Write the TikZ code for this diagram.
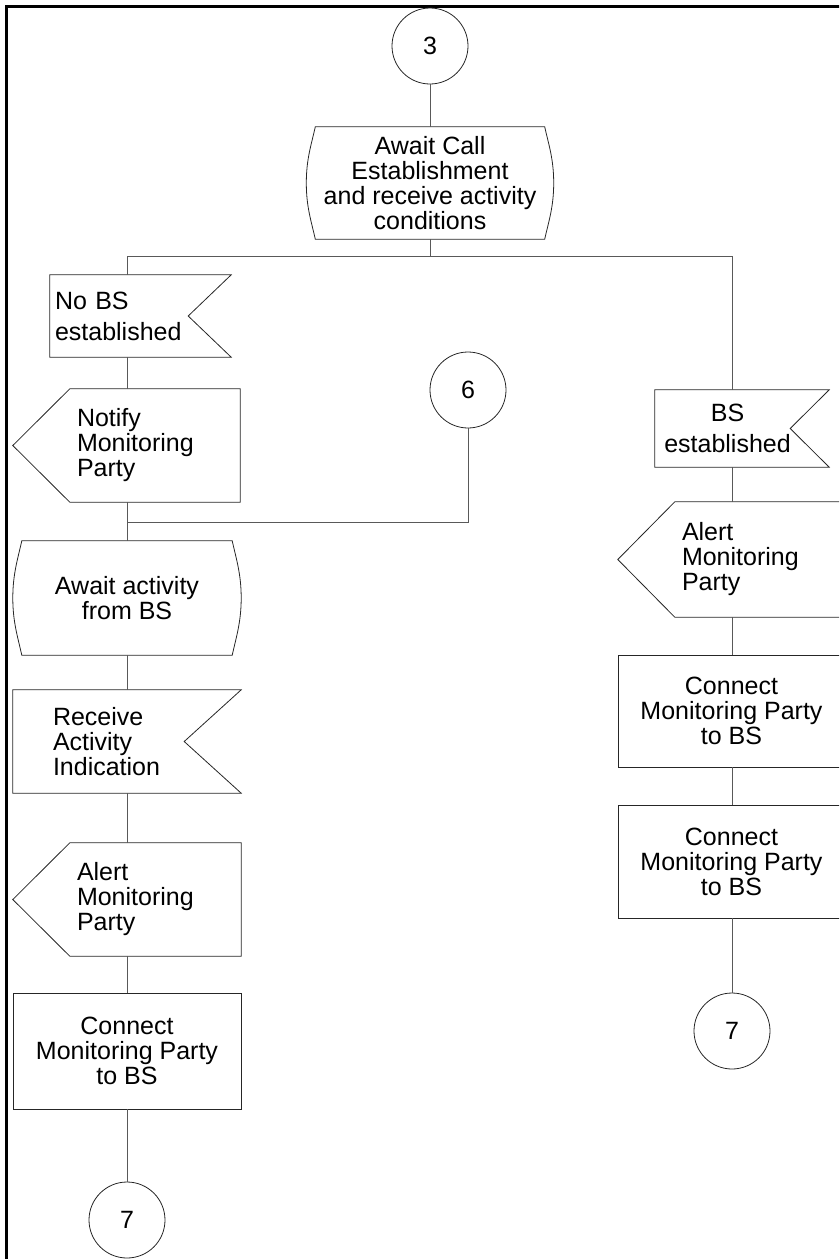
\documentclass[tikz,border=0pt]{standalone}
\usepackage{fontspec}
\setmainfont{Liberation Sans}
\usetikzlibrary{calc}

\begin{document}
\begin{tikzpicture}[x=1pt,y=-1pt]

%
% Styles
%
\tikzstyle{box} = [rectangle,inner sep=0pt,font=\fontsize{25}{25}\selectfont,align=center]
\tikzstyle{conn} = [circle,draw=black!85,line width=0.8pt,inner sep=0pt,minimum size=76pt,font=\fontsize{25}{25}\selectfont]
\tikzstyle{outline} = [draw=black!85,line width=0.8pt]
\tikzstyle{flow} = [draw=black!65,line width=1pt]

\useasboundingbox (0,0) rectangle (839,1259);
\clip (0,0) rectangle (839,1259);

% frame
\draw[line width=3pt] (6,1262) -- (6,6) -- (842,6);

% top
\node[conn] (c3) at (430,46) {3};
\node[box,minimum width=247pt,minimum height=112pt] (await) at (430,183) {Await Call\\Establishment\\and receive activity\\conditions};
\draw[outline] ($(await.north west)+(9,0)$) -- ($(await.north east)+(-9,0)$)
  .. controls ($(await.north east)+(-5,18)$) and ($(await.east)+(0,-24)$) .. (await.east)
  .. controls ($(await.east)+(0,24)$) and ($(await.south east)+(-5,-18)$) .. ($(await.south east)+(-9,0)$)
  -- ($(await.south west)+(9,0)$)
  .. controls ($(await.south west)+(5,-18)$) and ($(await.west)+(0,24)$) .. (await.west)
  .. controls ($(await.west)+(0,-24)$) and ($(await.north west)+(5,18)$) .. cycle;

\coordinate (split) at (430,256);
\coordinate (lcol) at (127,256);
\coordinate (rcol) at (732,256);

% left branch
\node[box,minimum width=181pt,minimum height=82pt,text width=171pt,align=left,font=\fontsize{25}{31}\selectfont] (nobs) at (140.5,316) {No BS\\established};
\draw[outline] (nobs.north west) -- (nobs.north east) -- ($(nobs.east)+(-43,0)$) -- (nobs.south east) -- (nobs.south west) -- cycle;

\node[box,minimum width=170pt,minimum height=113pt,text width=156pt,align=left] (notify) at (155,445.5) {Notify\\Monitoring\\Party};
\draw[outline] (notify.north west) -- (notify.north east) -- (notify.south east) -- (notify.south west) -- ($(notify.west)+(-57,0)$) -- cycle;

\node[conn] (c6) at (468,390) {6};
\coordinate (join) at (468,522);

\node[box,minimum width=228pt,minimum height=114pt] (waitbs) at (127,598) {Await activity\\from BS};
\draw[outline] ($(waitbs.north west)+(9,0)$) -- ($(waitbs.north east)+(-9,0)$)
  .. controls ($(waitbs.north east)+(-5,18)$) and ($(waitbs.east)+(0,-24)$) .. (waitbs.east)
  .. controls ($(waitbs.east)+(0,24)$) and ($(waitbs.south east)+(-5,-18)$) .. ($(waitbs.south east)+(-9,0)$)
  -- ($(waitbs.south west)+(9,0)$)
  .. controls ($(waitbs.south west)+(5,-18)$) and ($(waitbs.west)+(0,24)$) .. (waitbs.west)
  .. controls ($(waitbs.west)+(0,-24)$) and ($(waitbs.north west)+(5,18)$) .. cycle;

\node[box,minimum width=228pt,minimum height=103pt,text width=148pt,align=left] (recv) at (127,741.5) {Receive\\Activity\\Indication};
\draw[outline] (recv.north west) -- (recv.north east) -- ($(recv.east)+(-57,0)$) -- (recv.south east) -- (recv.south west) -- cycle;

\node[box,minimum width=171pt,minimum height=113pt,text width=157pt,align=left] (alertl) at (155.5,899.5) {Alert\\Monitoring\\Party};
\draw[outline] (alertl.north west) -- (alertl.north east) -- (alertl.south east) -- (alertl.south west) -- ($(alertl.west)+(-57,0)$) -- cycle;

\node[box,outline,minimum width=228pt,minimum height=116pt] (connl) at (127,1051) {Connect\\Monitoring Party\\to BS};
\node[conn] (c7l) at (127,1220) {7};

% right branch
\node[box,minimum width=145pt,minimum height=77pt,font=\fontsize{25}{31}\selectfont] (bsest) at (727.5,428.5) {BS\\established};
\draw[outline] (bsest.north west) -- ($(bsest.north east)+(29,0)$) -- ($(bsest.east)+(-10,0)$) -- ($(bsest.south east)+(29,0)$) -- (bsest.south west) -- cycle;

\node[box,minimum width=180pt,minimum height=115pt,text width=166pt,align=left] (alertr) at (765,559.5) {Alert\\Monitoring\\Party};
\draw[outline] (alertr.north west) -- (alertr.north east) -- (alertr.south east) -- (alertr.south west) -- ($(alertr.west)+(-57,0)$) -- cycle;

\node[box,outline,minimum width=227pt,minimum height=112pt] (connr1) at (731.5,711) {Connect\\Monitoring Party\\to BS};
\node[box,outline,minimum width=227pt,minimum height=113pt] (connr2) at (731.5,861.5) {Connect\\Monitoring Party\\to BS};
\node[conn] (c7r) at (732,1031) {7};

% connectors
\draw[flow] (c3) -- (await);
\draw[flow] (await) -- (split);
\draw[flow] (lcol) -- (rcol);
\draw[flow] (lcol) -- (nobs.north -| lcol);
\draw[flow] (nobs.south -| lcol) -- (notify.north -| lcol);
\draw[flow] (notify.south -| lcol) -- (waitbs.north -| lcol);
\draw[flow] (c6) -- (join) -- (join -| lcol);
\draw[flow] (waitbs) -- (recv.north -| lcol);
\draw[flow] (recv.south -| lcol) -- (alertl.north -| lcol);
\draw[flow] (alertl.south -| lcol) -- (connl);
\draw[flow] (connl) -- (c7l);
\draw[flow] (rcol) -- (bsest.north -| rcol);
\draw[flow] (bsest.south -| rcol) -- (alertr.north -| rcol);
\draw[flow] (alertr.south -| rcol) -- (connr1.north -| rcol);
\draw[flow] (connr1.south -| rcol) -- (connr2.north -| rcol);
\draw[flow] (connr2.south -| rcol) -- (c7r);

\end{tikzpicture}
\end{document}
